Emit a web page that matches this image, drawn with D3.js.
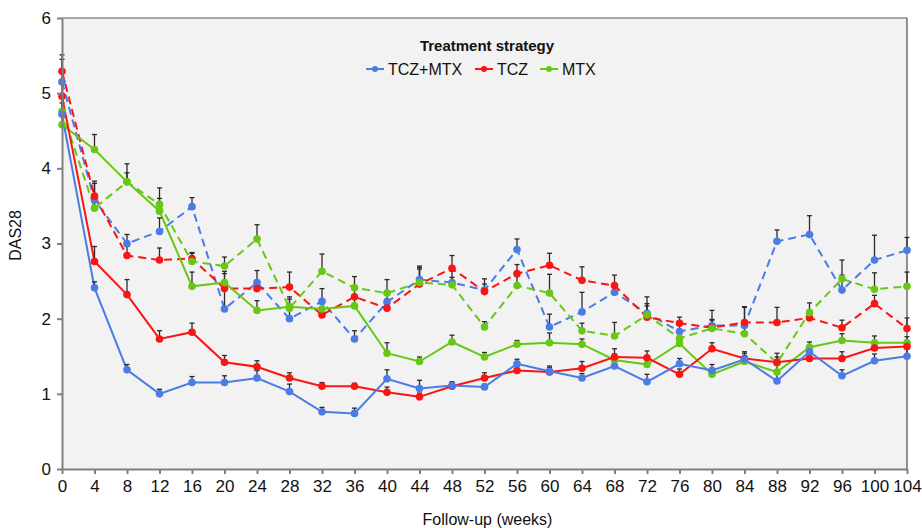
<!DOCTYPE html>
<html>
<head>
<meta charset="utf-8">
<script src="https://cdn.jsdelivr.net/npm/d3@7"></script>
<style>
  body { margin: 0; background: #fff; }
  svg text { font-family: "Liberation Sans", Arial, sans-serif; fill: #111; }
  .axis path, .axis line { stroke: #808080; stroke-width: 2px; }
  .axis text { font-size: 17px; }
</style>
</head>
<body>
<div id="chart"></div>
<script>
var margin = {top: 18, right: 15, bottom: 59, left: 62},
  width = 922 - margin.left - margin.right,
  height = 528 - margin.top - margin.bottom;

let weeks = [0,4,8,12,16,20,24,28,32,36,40,44,48,52,56,60,64,68,72,76,80,84,88,92,96,100,104]
let yTicks = [0,1,2,3,4,5,6]

// solid lines
let tczMtxSolid = [4.72,2.41,1.32,1.00,1.15,1.15,1.21,1.03,0.76,0.74,1.20,1.07,1.11,1.09,1.40,1.30,1.21,1.37,1.16,1.40,1.31,1.46,1.17,1.56,1.24,1.44,1.50]
let tczMtxSolidErr = [0.15,0.08,0.07,0.06,0.08,0.09,0.10,0.10,0.06,0.07,0.12,0.11,0.05,0.04,0.06,0.07,0.06,0.07,0.10,0.07,0.08,0.08,0.10,0.08,0.08,0.09,0.10]
let tczSolid = [4.96,2.76,2.32,1.73,1.82,1.42,1.36,1.21,1.10,1.10,1.02,0.96,1.10,1.21,1.31,1.29,1.34,1.49,1.48,1.26,1.60,1.47,1.42,1.47,1.47,1.61,1.63]
let tczSolidErr = [0.20,0.20,0.20,0.11,0.12,0.09,0.08,0.07,0.05,0.04,0.07,0.05,0.05,0.07,0.05,0.06,0.09,0.11,0.09,0.07,0.08,0.09,0.07,0.08,0.09,0.08,0.08]
let mtxSolid = [4.58,4.25,3.82,3.43,2.43,2.48,2.11,2.16,2.13,2.17,1.54,1.43,1.69,1.49,1.66,1.68,1.66,1.45,1.39,1.67,1.26,1.43,1.29,1.62,1.71,1.68,1.68]
let mtxSolidErr = [0.20,0.20,0.24,0.17,0.19,0.15,0.13,0.13,0.10,0.10,0.14,0.06,0.09,0.06,0.05,0.13,0.07,0.08,0.10,0.10,0.08,0.08,0.09,0.07,0.09,0.09,0.08]

// dashed lines
let tczMtxDashed = [5.15,3.58,3.00,3.16,3.49,2.13,2.48,2.00,2.23,1.73,2.22,2.52,2.48,2.38,2.92,1.89,2.09,2.35,2.07,1.83,1.91,1.91,3.03,3.12,2.38,2.78,2.91]
let tczMtxDashedErr = [0.30,0.22,0.12,0.18,0.12,0.30,0.16,0.15,0.17,0.11,0.12,0.18,0.15,0.15,0.14,0.17,0.26,0.10,0.22,0.12,0.20,0.25,0.15,0.25,0.20,0.33,0.17]
let tczDashed = [5.29,3.63,2.84,2.78,2.80,2.40,2.40,2.42,2.05,2.29,2.14,2.46,2.67,2.36,2.60,2.71,2.51,2.44,2.02,1.94,1.88,1.95,1.95,2.01,1.88,2.20,1.87]
let tczDashedErr = [0.22,0.20,0.12,0.16,0.07,0.20,0.10,0.20,0.15,0.12,0.12,0.20,0.17,0.10,0.12,0.16,0.18,0.14,0.15,0.08,0.10,0.20,0.20,0.10,0.10,0.11,0.14]
let mtxDashed = [4.76,3.47,3.82,3.52,2.76,2.70,3.06,2.14,2.63,2.41,2.34,2.48,2.45,1.89,2.44,2.34,1.84,1.77,2.05,1.74,1.87,1.80,1.41,2.08,2.53,2.39,2.43]
let mtxDashedErr = [0.20,0.15,0.12,0.22,0.12,0.12,0.19,0.12,0.23,0.15,0.18,0.20,0.10,0.07,0.12,0.25,0.10,0.18,0.15,0.10,0.12,0.10,0.13,0.13,0.25,0.22,0.19]

let groups = ["TCZ+MTX", "TCZ", "MTX"]
let colors = ["#4a7be6", "#fb1414", "#67c814"]

let series = [
  {name: "TCZ+MTX", dashed: true, values: tczMtxDashed, err: tczMtxDashedErr},
  {name: "TCZ", dashed: true, values: tczDashed, err: tczDashedErr},
  {name: "MTX", dashed: true, values: mtxDashed, err: mtxDashedErr},
  {name: "MTX", dashed: false, values: mtxSolid, err: mtxSolidErr},
  {name: "TCZ", dashed: false, values: tczSolid, err: tczSolidErr},
  {name: "TCZ+MTX", dashed: false, values: tczMtxSolid, err: tczMtxSolidErr}
]

var color = d3.scaleOrdinal().domain(groups).range(colors)

var svg = d3.select("#chart")
  .append("svg")
    .attr("width", width + margin.left + margin.right)
    .attr("height", height + margin.top + margin.bottom)
  .append("g")
    .attr("transform", "translate(" + margin.left + "," + margin.top + ")");

var x = d3.scaleLinear().domain([0, 104]).range([0, width])
var y = d3.scaleLinear().domain([0, 6]).range([height, 0])

// plot background and frame
svg.append("rect")
  .attr("width", width).attr("height", height)
  .attr("fill", "#f2f2f2")
svg.append("line")
  .attr("x1", 0).attr("x2", width).attr("y1", 0).attr("y2", 0)
  .attr("stroke", "#8c8c8c").attr("stroke-width", 1.5)
svg.append("line")
  .attr("x1", width).attr("x2", width).attr("y1", 0).attr("y2", height)
  .attr("stroke", "#6e6e6e").attr("stroke-width", 1.5)

var line = d3.line()
  .x((d, i) => x(weeks[i]))
  .y(d => y(d))

// lines
series.forEach(function(s) {
  svg.append("path")
    .datum(s.values)
    .attr("d", line)
    .attr("fill", "none")
    .attr("stroke", color(s.name))
    .attr("stroke-width", 2)
    .attr("stroke-dasharray", s.dashed ? "8,5" : null)
})

// error bars (upper only)
series.forEach(function(s) {
  var g = svg.append("g")
  s.values.forEach(function(v, i) {
    var top = y(v + s.err[i]), cx = x(weeks[i])
    g.append("line")
      .attr("x1", cx).attr("x2", cx)
      .attr("y1", y(v)).attr("y2", top)
      .attr("stroke", "#2a2a2a").attr("stroke-width", 1.3)
    g.append("line")
      .attr("x1", cx - 2.5).attr("x2", cx + 2.5)
      .attr("y1", top).attr("y2", top)
      .attr("stroke", "#2a2a2a").attr("stroke-width", 1.3)
  })
})

// markers
series.forEach(function(s) {
  svg.append("g")
    .selectAll("circle")
    .data(s.values)
    .join("circle")
      .attr("cx", (d, i) => x(weeks[i]))
      .attr("cy", d => y(d))
      .attr("r", 3.8)
      .attr("fill", color(s.name))
})

// axes
svg.append("g")
  .attr("class", "axis")
  .attr("transform", "translate(0," + height + ")")
  .call(d3.axisBottom(x).tickValues(weeks).tickFormat(d3.format("d")).tickSize(5).tickPadding(4).tickSizeOuter(0))
  .call(g => g.selectAll("text").attr("dy", "0.85em"))

svg.append("g")
  .attr("class", "axis")
  .call(d3.axisLeft(y).tickValues(yTicks).tickFormat(d3.format("d")).tickSize(5).tickPadding(6).tickSizeOuter(0))

// axis titles
svg.append("text")
  .attr("x", width / 2 + 3)
  .attr("y", height + 56)
  .attr("text-anchor", "middle")
  .style("font-size", "16px")
  .text("Follow-up (weeks)")

svg.append("text")
  .attr("transform", "translate(" + (-41) + "," + (height / 2 - 8) + ") rotate(-90)")
  .attr("text-anchor", "middle")
  .style("font-size", "16px")
  .text("DAS28")

// legend
var legend = svg.append("g").attr("transform", "translate(0,0)")
legend.append("text")
  .attr("x", 425).attr("y", 33)
  .attr("text-anchor", "middle")
  .style("font-size", "15px").style("font-weight", "bold")
  .text("Treatment strategy")

var legX = [304, 413, 478]
groups.forEach(function(gname, i) {
  var lg = legend.append("g").attr("transform", "translate(" + legX[i] + ",51)")
  lg.append("line").attr("x1", 0).attr("x2", 18)
    .attr("stroke", color(gname)).attr("stroke-width", 2)
  lg.append("circle").attr("cx", 9).attr("r", 3).attr("fill", color(gname))
  lg.append("text").attr("x", 22).attr("y", 6)
    .style("font-size", "16px")
    .text(gname)
})
</script>
</body>
</html>
